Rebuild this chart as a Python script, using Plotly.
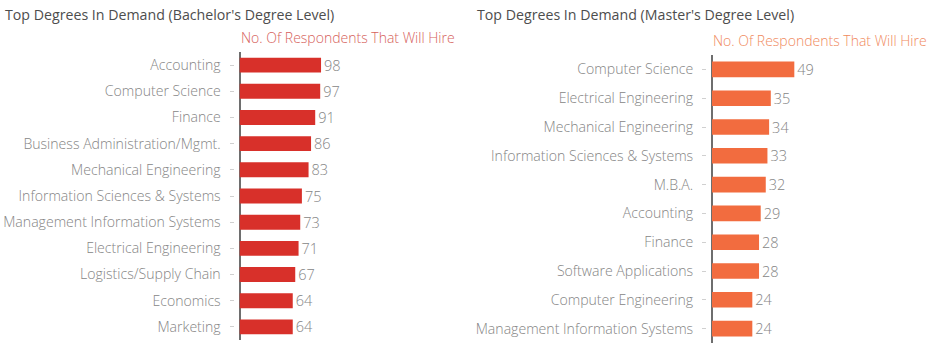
import plotly.graph_objects as go

W, H = 932, 350

bach_degrees = ["Accounting", "Computer Science", "Finance", "Business Administration/Mgmt.",
                "Mechanical Engineering", "Information Sciences & Systems",
                "Management Information Systems", "Electrical Engineering",
                "Logistics/Supply Chain", "Economics", "Marketing"]
bach_values = [98, 97, 91, 86, 83, 75, 73, 71, 67, 64, 64]

mast_degrees = ["Computer Science", "Electrical Engineering", "Mechanical Engineering",
                "Information Sciences & Systems", "M.B.A.", "Accounting", "Finance",
                "Software Applications", "Computer Engineering", "Management Information Systems"]
mast_values = [49, 35, 34, 33, 32, 29, 28, 28, 24, 24]

titles = ["Top Degrees In Demand (Bachelor's Degree Level)",
          "Top Degrees In Demand (Master's Degree Level)"]
subtitle = "No. Of Respondents That Will Hire"

RED = "#d8302a"
ORANGE = "#f26c3f"
FONT = "Open Sans"
LABEL_GRAY = "#858585"

def px_x(p):
    return p / W

def px_y(p):
    return 1 - p / H

fig = go.Figure()

fig.add_trace(go.Bar(
    x=bach_values, y=bach_degrees, orientation="h",
    marker=dict(color=RED, line=dict(width=0)), width=0.57,
    text=bach_values, textposition="outside", cliponaxis=False, constraintext="none",
    textfont=dict(family=FONT, size=14.5, color=LABEL_GRAY, weight=300),
    xaxis="x", yaxis="y", showlegend=False,
))
fig.add_trace(go.Bar(
    x=mast_values, y=mast_degrees, orientation="h",
    marker=dict(color=ORANGE, line=dict(width=0)), width=0.54,
    text=mast_values, textposition="outside", cliponaxis=False, constraintext="none",
    textfont=dict(family=FONT, size=14.5, color=LABEL_GRAY, weight=300),
    xaxis="x2", yaxis="y2", showlegend=False,
))

# panel geometry (pixels)
L_AX, L_END = 239.5, 460
L_SCALE = 0.832
R_AX, R_END = 712, 930
R_SCALE = 1.68

xcommon = dict(showgrid=False, showticklabels=False, ticks="", showline=False,
               zeroline=True, zerolinecolor="#6e6e6e", zerolinewidth=1.5,
               fixedrange=True, automargin=False)
ycommon = dict(type="category", autorange=False, showgrid=False, showline=False,
               ticks="outside", ticklen=4, tickwidth=1, tickcolor="#d0d0d0",
               ticklabelstandoff=6, automargin=False,
               tickfont=dict(family=FONT, size=14.1, color=LABEL_GRAY, weight=300),
               zeroline=False, fixedrange=True)

fig.update_layout(
    width=W, height=H,
    margin=dict(l=0, r=0, t=0, b=0, autoexpand=False),
    paper_bgcolor="white", plot_bgcolor="rgba(0,0,0,0)",
    xaxis=dict(domain=[px_x(L_AX), px_x(L_END)], range=[0, (L_END - L_AX) / L_SCALE],
               anchor="y", **xcommon),
    yaxis=dict(domain=[px_y(340), px_y(52)], range=[len(bach_degrees) - 0.5, -0.5],
               categoryorder="array", categoryarray=bach_degrees,
               anchor="free", position=px_x(L_AX - 6), **ycommon),
    xaxis2=dict(domain=[px_x(R_AX), px_x(R_END)], range=[0, (R_END - R_AX) / R_SCALE],
                anchor="y2", **xcommon),
    yaxis2=dict(domain=[px_y(343), px_y(55)], range=[len(mast_degrees) - 0.5, -0.5],
                categoryorder="array", categoryarray=mast_degrees,
                anchor="free", position=px_x(R_AX - 6), **ycommon),
    annotations=[
        dict(text=titles[0], x=px_x(3), y=px_y(14), xref="paper", yref="paper",
             xanchor="left", yanchor="middle", showarrow=False,
             font=dict(family=FONT, size=14.2, color="#4d4d4d")),
        dict(text=titles[1], x=px_x(475), y=px_y(14), xref="paper", yref="paper",
             xanchor="left", yanchor="middle", showarrow=False,
             font=dict(family=FONT, size=14.2, color="#4d4d4d")),
        dict(text=subtitle, x=px_x(L_AX - 1), y=px_y(38), xref="paper", yref="paper",
             xanchor="left", yanchor="middle", showarrow=False,
             font=dict(family=FONT, size=14.0, color="#d6625c", weight=300)),
        dict(text=subtitle, x=px_x(R_AX - 1), y=px_y(40), xref="paper", yref="paper",
             xanchor="left", yanchor="middle", showarrow=False,
             font=dict(family=FONT, size=14.0, color="#f08a5e", weight=300)),
    ],
)

fig.write_html("out.html")
